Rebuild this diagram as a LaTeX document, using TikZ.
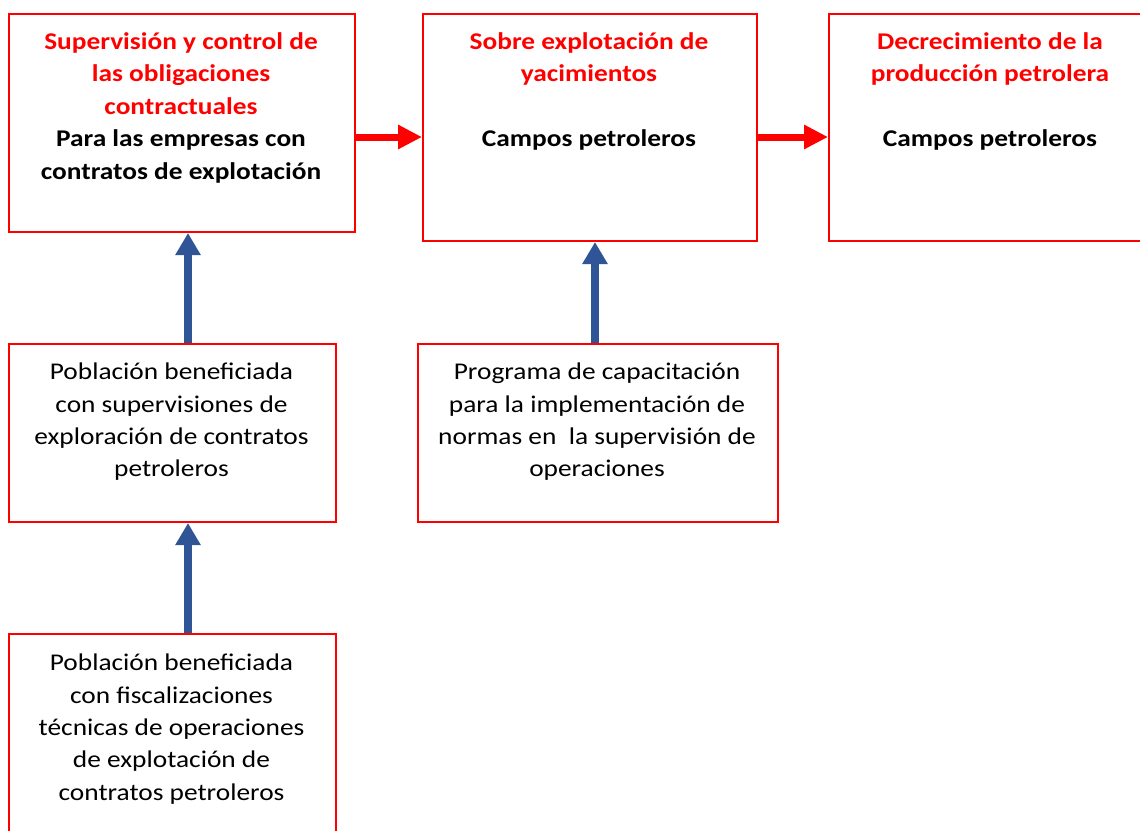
\documentclass[tikz,border=0pt]{standalone}
\usepackage{fontspec}
\setmainfont{Carlito}[FakeStretch=1.14]
\usetikzlibrary{arrows.meta}
\definecolor{boxred}{HTML}{FF0000}
\definecolor{arrblue}{HTML}{2F5597}
\begin{document}
\begin{tikzpicture}[x=1pt,y=-1pt,
  box/.style={draw=boxred,line width=2pt,anchor=north west,inner sep=0pt,rectangle},
  txt/.style={anchor=north,align=center,inner sep=0pt,font=\fontsize{24}{33}\selectfont},
  ttl/.style={txt,text=boxred,font=\fontsize{24}{32.5}\selectfont\bfseries},
  sub/.style={txt,font=\fontsize{24}{33}\selectfont\bfseries},
  body/.style={txt,font=\fontsize{24}{32.3}\selectfont},
  redarr/.style={draw=boxred,line width=7pt,-{Triangle[width=23pt,length=24pt]}},
  bluearr/.style={draw=arrblue,line width=8pt,-{Triangle[width=24pt,length=22pt]}}]
\clip (0,0) rectangle (1140,830);
\fill[white] (0,0) rectangle (1140,830);
% boxes
\node[box,minimum width=346pt,minimum height=218pt] (b1) at (8,13) {};
\node[box,minimum width=334pt,minimum height=227pt] (b2) at (422,13) {};
\node[box,minimum width=324pt,minimum height=227pt] (b3) at (828,13) {};
\node[box,minimum width=327pt,minimum height=178pt] (b4) at (8,343) {};
\node[box,minimum width=360pt,minimum height=178pt] (b5) at (417,343) {};
\node[box,minimum width=327pt,minimum height=220pt] (b6) at (8,633) {};
% texts
\node[ttl] (t1r) at (181,32) {Supervisión y control de\\las obligaciones\\contractuales};
\node[sub] (t1b) at (181,129) {Para las empresas con\\contratos de explotación};
\node[ttl] (t2r) at (589,32) {Sobre explotación de\\yacimientos};
\node[sub] (t2b) at (589,129) {Campos petroleros};
\node[ttl] (t3r) at (990,32) {Decrecimiento de la\\producción petrolera};
\node[sub] (t3b) at (990,129) {Campos petroleros};
\node[body] (t4) at (171.5,363) {Población beneficiada\\con supervisiones de\\exploración de contratos\\petroleros};
\node[body] (t5) at (597,363) {Programa de capacitación\\para la implementación de\\normas en\ \ la supervisión de\\operaciones};
\node[body] (t6) at (171.5,654) {Población beneficiada\\con fiscalizaciones\\técnicas de operaciones\\de explotación de\\contratos petroleros};
% connectors
\coordinate (r1) at ([yshift=-14pt]b1.east);
\coordinate (r2) at ([yshift=-9.5pt]b2.east);
\draw[redarr] (r1) -- (r1 -| b2.west);
\draw[redarr] (r2) -- (r2 -| b3.west);
\coordinate (u1) at ([xshift=15.5pt]b4.north);
\coordinate (u2) at ([xshift=-3pt]b5.north);
\coordinate (u3) at ([xshift=15.5pt]b6.north);
\draw[bluearr] (u1) -- (u1 |- b1.south);
\draw[bluearr] (u2) -- (u2 |- b2.south);
\draw[bluearr] (u3) -- (u3 |- b4.south);
\end{tikzpicture}
\end{document}
